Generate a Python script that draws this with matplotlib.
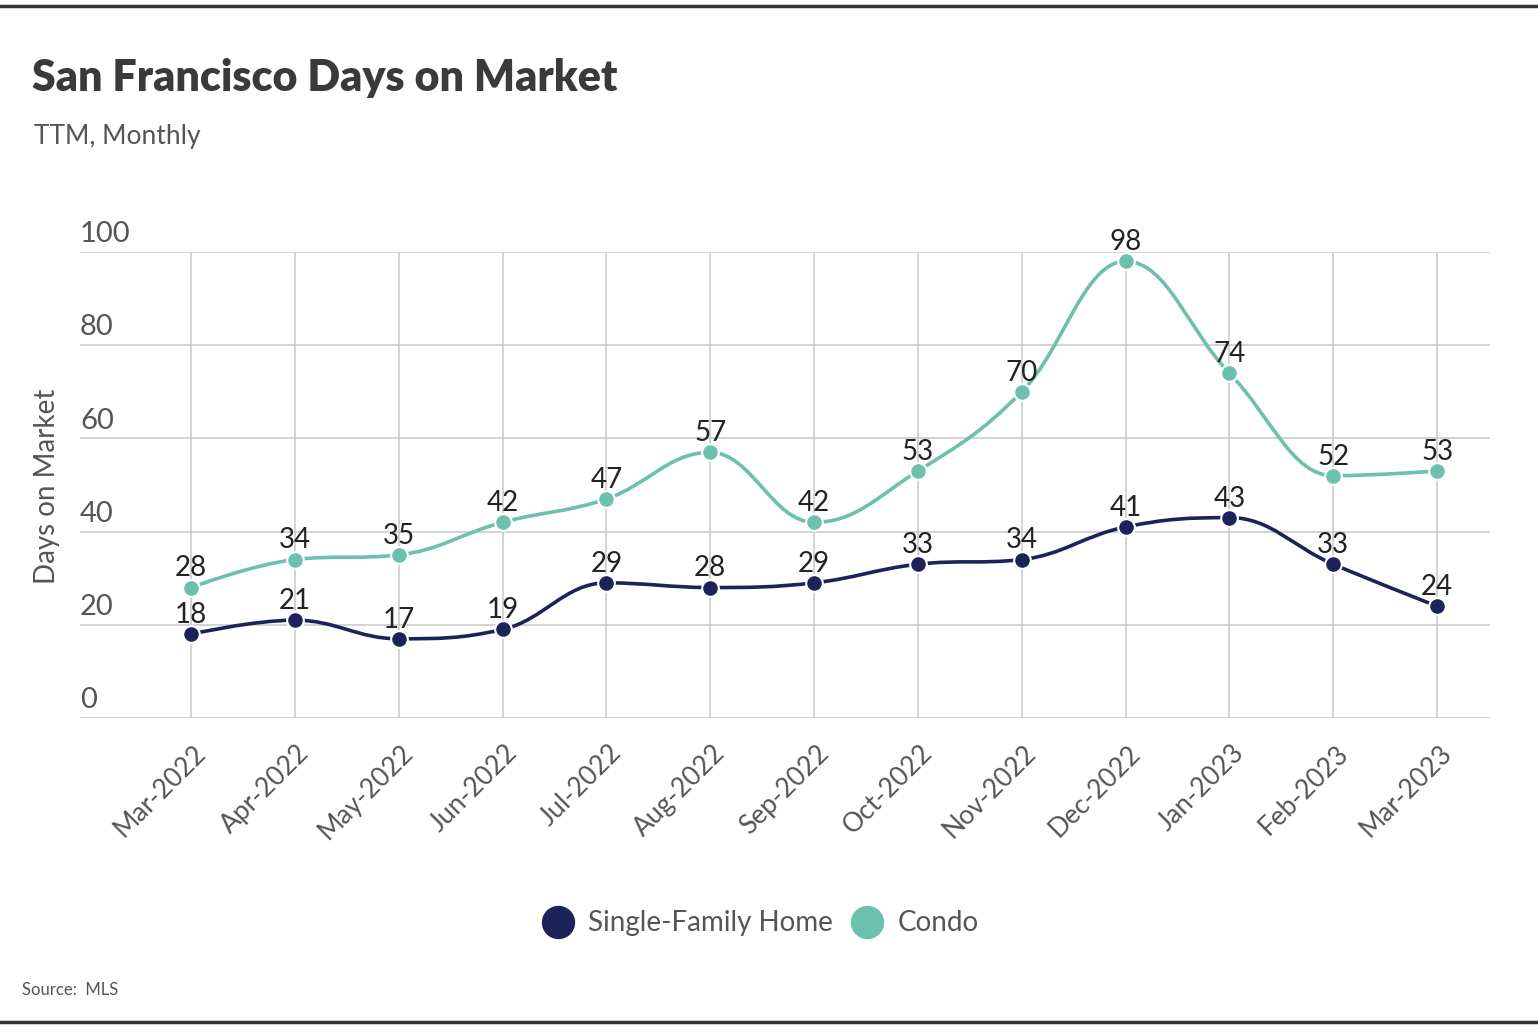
import matplotlib
matplotlib.use("Agg")
import matplotlib.pyplot as plt
import matplotlib.transforms as mtransforms
from matplotlib.path import Path
from matplotlib.patches import PathPatch
from matplotlib.lines import Line2D

plt.rcParams['font.family'] = ['Lato', 'DejaVu Sans']

# data
months = ['Mar-2022', 'Apr-2022', 'May-2022', 'Jun-2022', 'Jul-2022', 'Aug-2022',
          'Sep-2022', 'Oct-2022', 'Nov-2022', 'Dec-2022', 'Jan-2023', 'Feb-2023', 'Mar-2023']
single_family = [18, 21, 17, 19, 29, 28, 29, 33, 34, 41, 43, 33, 24]
condo = [28, 34, 35, 42, 47, 57, 42, 53, 70, 98, 74, 52, 53]
y_ticks = [0, 20, 40, 60, 80, 100]

navy = '#1c2358'
teal = '#6cc0ae'
gray_txt = '#555555'


def spline_path(xs, ys, smoothing=1.5):
    # spline through the points, control points like a highcharts "spline" series
    n = len(xs)
    left = [None] * n
    right = [None] * n
    denom = smoothing + 1
    for i in range(1, n - 1):
        px, py = xs[i], ys[i]
        lx, ly = xs[i - 1], ys[i - 1]
        nx, ny = xs[i + 1], ys[i + 1]
        lcx = (smoothing * px + lx) / denom
        lcy = (smoothing * py + ly) / denom
        rcx = (smoothing * px + nx) / denom
        rcy = (smoothing * py + ny) / denom
        corr = (rcy - lcy) * (rcx - px) / (rcx - lcx) + py - rcy
        lcy += corr
        rcy += corr
        if lcy > ly and lcy > py:
            lcy = max(ly, py); rcy = 2 * py - lcy
        elif lcy < ly and lcy < py:
            lcy = min(ly, py); rcy = 2 * py - lcy
        if rcy > ny and rcy > py:
            rcy = max(ny, py); lcy = 2 * py - rcy
        elif rcy < ny and rcy < py:
            rcy = min(ny, py); lcy = 2 * py - rcy
        left[i] = (lcx, lcy)
        right[i] = (rcx, rcy)
    verts = [(xs[0], ys[0])]
    codes = [Path.MOVETO]
    for i in range(1, n):
        c1 = right[i - 1] if right[i - 1] else (xs[i - 1], ys[i - 1])
        c2 = left[i] if left[i] else (xs[i], ys[i])
        verts += [c1, c2, (xs[i], ys[i])]
        codes += [Path.CURVE4] * 3
    return Path(verts, codes)


fig = plt.figure(figsize=(15.38, 10.34), dpi=100)
ax = fig.add_axes([0.052, 0.3056, 0.9168, 0.4507])

x = list(range(len(months)))
ax.set_xlim(-1.07, 12.51)
ax.set_ylim(0, 100)

for v in y_ticks:
    ax.axhline(v, color='#c8c8c8', lw=1.1, zorder=0)
for xi in x:
    ax.plot([xi, xi], [0, 100], color='#c8c8c8', lw=1.1, zorder=0)

for vals, col in [(single_family, navy), (condo, teal)]:
    ax.add_patch(PathPatch(spline_path(x, vals), fill=False, edgecolor=col, lw=2.6, zorder=2))
    ax.plot(x, vals, 'o', color=col, ms=12, mec='white', mew=1.5, zorder=3)
    for xi, v in zip(x, vals):
        ax.annotate(str(v), (xi, v), xytext=(0, 8), textcoords='offset points',
                    ha='center', va='baseline', fontsize=20, color='#222222', zorder=4)

for s in ax.spines.values():
    s.set_visible(False)
ax.set_yticks(y_ticks)
ax.set_yticklabels([])
ax.tick_params(axis='both', length=0)
for v in y_ticks:
    ax.annotate(str(v), (0, v), xycoords=ax.get_yaxis_transform(), xytext=(0, 7),
                textcoords='offset points', ha='left', va='baseline', fontsize=21, color=gray_txt)

ax.set_xticks(x)
ax.set_xticklabels(months, rotation=45, ha='right', va='top', rotation_mode='anchor',
                   fontsize=19, color=gray_txt)
ax.tick_params(axis='x', pad=16)
shift = mtransforms.ScaledTranslation(0.02, 0, fig.dpi_scale_trans)
for lab in ax.get_xticklabels():
    lab.set_transform(lab.get_transform() + shift)

fig.text(0.0306, 0.5300, 'Days on Market', rotation=90, ha='center', va='center',
         fontsize=20, color=gray_txt)

fig.text(0.021, 0.925, 'San Francisco Days on Market', fontsize=31, fontweight='heavy',
         color='#3a3a3a', ha='left', va='center')
fig.text(0.022, 0.868, 'TTM, Monthly', fontsize=19, color=gray_txt, ha='left', va='center')
fig.text(0.014, 0.043, 'Source:  MLS', fontsize=12, color=gray_txt, ha='left', va='center')

handles = [Line2D([], [], marker='o', ls='', color=navy, ms=23),
           Line2D([], [], marker='o', ls='', color=teal, ms=23)]
fig.legend(handles, ['Single-Family Home', 'Condo'], loc='center', bbox_to_anchor=(0.494, 0.107),
           ncol=2, frameon=False, fontsize=20, labelcolor=gray_txt, handletextpad=0.5,
           columnspacing=0.6, handlelength=1.2)

fig.add_artist(Line2D([0, 1], [0.9945, 0.9945], color='#333333', lw=2.5))
fig.add_artist(Line2D([0, 1], [0.0115, 0.0115], color='#333333', lw=2.5))

fig.savefig('out.png', dpi=100)
